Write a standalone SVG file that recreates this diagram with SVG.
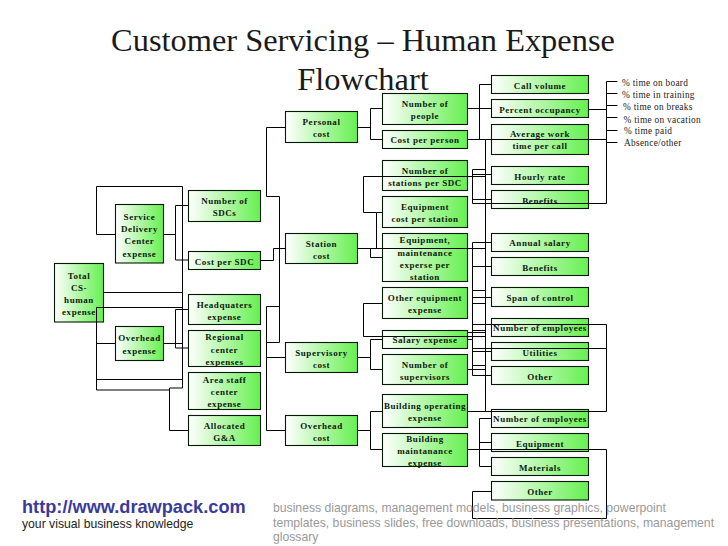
<svg xmlns="http://www.w3.org/2000/svg" width="728" height="546" viewBox="0 0 728 546">
<style>
text{font-family:"Liberation Serif","Times New Roman",serif}
.n rect{fill:url(#g);stroke:#021a02;stroke-width:1.1}
.n text{font-size:9px;font-weight:700;text-anchor:middle;letter-spacing:.55px;fill:#0c1a0c}
.c path{fill:none;stroke:#000;stroke-width:1}
.t{font-size:32.4px;text-anchor:middle;fill:#1a1a1a}
.o{font-size:9.3px;letter-spacing:.3px;fill:#222}
.f{font-family:"Liberation Sans",Arial,sans-serif}
.k{font-size:12.2px;fill:#999}
</style>
<defs><linearGradient id="g" x1="0" y1="0" x2="1" y2="0"><stop offset="0" stop-color="#fff"/><stop offset="1" stop-color="#66f050"/></linearGradient></defs>
<rect width="728" height="546" fill="#fff"/>
<text class="t" x="363" y="51">Customer Servicing – Human Expense</text>
<text class="t" x="363" y="90">Flowchart</text>
<g id="n-total" class="n"><rect x="54.5" y="263.5" width="49" height="58.5"/><text x="79" y="279">Total</text><text x="79" y="291">CS-</text><text x="79" y="303">human</text><text x="79" y="315">expense</text></g>
<g id="n-sdc" class="n"><rect x="115.5" y="204.5" width="48" height="58.5"/><text x="139.5" y="220">Service</text><text x="139.5" y="232">Delivery</text><text x="139.5" y="244">Center</text><text x="139.5" y="257">expense</text></g>
<g id="n-overhead-exp" class="n"><rect x="115.5" y="326.5" width="48" height="34"/><text x="139.5" y="341">Overhead</text><text x="139.5" y="354">expense</text></g>
<g id="n-num-sdc" class="n"><rect x="188.5" y="190.5" width="72" height="31"/><text x="224.5" y="204">Number of</text><text x="224.5" y="216">SDCs</text></g>
<g id="n-cost-sdc" class="n"><rect x="188.5" y="251.5" width="72" height="18"/><text x="224.5" y="265">Cost per SDC</text></g>
<g id="n-hq" class="n"><rect x="188.5" y="294.5" width="72" height="30"/><text x="224.5" y="308">Headquaters</text><text x="224.5" y="320">expense</text></g>
<g id="n-regional" class="n"><rect x="188.5" y="330.5" width="72" height="36"/><text x="224.5" y="340">Regional</text><text x="224.5" y="353">center</text><text x="224.5" y="365">expenses</text></g>
<g id="n-area" class="n"><rect x="188.5" y="372.5" width="72" height="37"/><text x="224.5" y="383">Area staff</text><text x="224.5" y="395">center</text><text x="224.5" y="407">expense</text></g>
<g id="n-alloc" class="n"><rect x="188.5" y="415.5" width="72" height="30"/><text x="224.5" y="429">Allocated</text><text x="224.5" y="441">G&amp;A</text></g>
<g id="n-personal" class="n"><rect x="285.5" y="111.5" width="72" height="31"/><text x="321.5" y="125">Personal</text><text x="321.5" y="137">cost</text></g>
<g id="n-station" class="n"><rect x="285.5" y="233.5" width="72" height="30"/><text x="321.5" y="247">Station</text><text x="321.5" y="259">cost</text></g>
<g id="n-supervisory" class="n"><rect x="285.5" y="342.5" width="72" height="30"/><text x="321.5" y="356">Supervisory</text><text x="321.5" y="368">cost</text></g>
<g id="n-overhead-cost" class="n"><rect x="285.5" y="415.5" width="72" height="30"/><text x="321.5" y="429">Overhead</text><text x="321.5" y="441">cost</text></g>
<g id="n-people" class="n"><rect x="382.5" y="93.5" width="85" height="31"/><text x="425" y="107">Number of</text><text x="425" y="119">people</text></g>
<g id="n-cost-person" class="n"><rect x="382.5" y="130.5" width="85" height="18"/><text x="425" y="143">Cost per person</text></g>
<g id="n-stations" class="n"><rect x="382.5" y="160.5" width="85" height="30"/><text x="425" y="174">Number of</text><text x="425" y="186">stations per SDC</text></g>
<g id="n-equip-cost" class="n"><rect x="382.5" y="196.5" width="85" height="31"/><text x="425" y="210">Equipment</text><text x="425" y="222">cost per station</text></g>
<g id="n-equip-maint" class="n"><rect x="382.5" y="233.5" width="85" height="48"/><text x="425" y="243">Equipment,</text><text x="425" y="256">maintenance</text><text x="425" y="268">experse per</text><text x="425" y="280">station</text></g>
<g id="n-other-equip" class="n"><rect x="382.5" y="287.5" width="85" height="31"/><text x="425" y="301">Other equipment</text><text x="425" y="313">expense</text></g>
<g id="n-salary" class="n"><rect x="382.5" y="330.5" width="85" height="18"/><text x="425" y="343">Salary expense</text></g>
<g id="n-supervisors" class="n"><rect x="382.5" y="354.5" width="85" height="30"/><text x="425" y="368">Number of</text><text x="425" y="380">supervisors</text></g>
<g id="n-bld-op" class="n"><rect x="382.5" y="394.5" width="85" height="33"/><text x="425" y="409">Building operating</text><text x="425" y="421">expense</text></g>
<g id="n-bld-maint" class="n"><rect x="382.5" y="433.5" width="85" height="33"/><text x="425" y="442">Building</text><text x="425" y="454">maintanance</text><text x="425" y="466">expense</text></g>
<g id="n-call" class="n"><rect x="491.5" y="75.5" width="97" height="18"/><text x="540" y="89">Call volume</text></g>
<g id="n-occupancy" class="n"><rect x="491.5" y="99.5" width="97" height="18"/><text x="540" y="113">Percent occupancy</text></g>
<g id="n-awt" class="n"><rect x="491.5" y="124.5" width="97" height="30"/><text x="540" y="137">Average work</text><text x="540" y="149">time per call</text></g>
<g id="n-hourly" class="n"><rect x="491.5" y="166.5" width="97" height="18"/><text x="540" y="180">Hourly rate</text></g>
<g id="n-benefits1" class="n"><rect x="491.5" y="190.5" width="97" height="18"/><text x="540" y="204">Benefits</text></g>
<g id="n-annual" class="n"><rect x="491.5" y="233.5" width="97" height="18"/><text x="540" y="246">Annual salary</text></g>
<g id="n-benefits2" class="n"><rect x="491.5" y="257.5" width="97" height="18"/><text x="540" y="271">Benefits</text></g>
<g id="n-span" class="n"><rect x="491.5" y="287.5" width="97" height="19"/><text x="540" y="301">Span of control</text></g>
<g id="n-emp1" class="n"><rect x="491.5" y="318.5" width="97" height="18"/><text x="540" y="331">Number of employees</text></g>
<g id="n-utilities" class="n"><rect x="491.5" y="342.5" width="97" height="18"/><text x="540" y="356">Utilities</text></g>
<g id="n-other1" class="n"><rect x="491.5" y="366.5" width="97" height="18"/><text x="540" y="380">Other</text></g>
<g id="n-emp2" class="n"><rect x="491.5" y="409.5" width="97" height="18"/><text x="540" y="422">Number of employees</text></g>
<g id="n-equipment" class="n"><rect x="491.5" y="433.5" width="97" height="18"/><text x="540" y="447">Equipment</text></g>
<g id="n-materials" class="n"><rect x="491.5" y="457.5" width="97" height="18"/><text x="540" y="471">Materials</text></g>
<g id="n-other2" class="n"><rect x="491.5" y="481.5" width="97" height="18.5"/><text x="540" y="495">Other</text></g>
<g id="connectors" class="c">
<path d="M115.5 234.5H96.5V186.5H182.5V388H169.5V430.5H188.5M163.5 234.5H175.5M188.5 205.5H175.5V260H188.5"/>
<path d="M103.5 292.5H182.5M96.5 307.5H182.5M96.5 307.5V390H169.5M96.5 379.5H182.5M96.5 343.5H115.5M163.5 343.5H182.5M188.5 309.5H175.5V348H188.5"/>
<path d="M260.5 260.5H273.5V248.5H285.5"/>
<path d="M285.5 127.5H266.5V196.5H279.5V342.5H266.5M279.5 306.5H266.5V430.5H285.5M266.5 357.5H285.5"/>
<path d="M357.5 127.5H370.5M382.5 108.5H370.5V139.5H382.5"/>
<path d="M357.5 248.5H485.5M370.5 248.5V257.5H382.5M376.5 248.5V212.5H363.5V176.5H485.5M376.5 212.5H382.5"/>
<path d="M382.5 303.5H363.5V336.5H485.5"/>
<path d="M357.5 357.5H370.5M382.5 339.5H370.5V369.5H382.5"/>
<path d="M357.5 430.5H370.5M382.5 411.5H370.5V449.5H382.5"/>
<path d="M467.5 108.5H491.5M491.5 84.5H479.5V139.5M467.5 139.5H606.5M485.5 139.5V411.5M467.5 411.5H606.5V324.5H472.5"/>
<path d="M472.5 169.5H485.5M472.5 169.5V203.5H606.5M472.5 174.5H491.5M472.5 199.5H491.5"/>
<path d="M588.5 109.5H606.5M606.5 81.5V203.5M606.5 81.5H617.5M606.5 93.5H617.5M606.5 105.5H617.5M606.5 117.5H617.5M606.5 130.5H617.5M606.5 142.5H617.5"/>
<path d="M472.5 242.5V375.5M472.5 242.5H491.5M472.5 266.5H491.5M472.5 290.5H485.5M472.5 297.5H491.5M472.5 303.5H485.5M472.5 330.5H485.5M467.5 332.5H485.5M467.5 339.5H472.5M472.5 348.5H606.5M472.5 351.5H491.5M472.5 365.5H485.5M467.5 369.5H485.5M472.5 375.5H491.5"/>
<path d="M491.5 418.5H479.5V466.5H491.5M479.5 442.5H491.5M467.5 449.5H606.5V518.5H472.5V491.5H491.5"/>
</g>
<text class="o" x="622" y="86">% time on board</text>
<text class="o" x="622" y="98">% time in training</text>
<text class="o" x="623" y="110">% time on breaks</text>
<text class="o" x="623.5" y="122.5">% time on vacation</text>
<text class="o" x="624" y="134">% time paid</text>
<text class="o" x="624" y="146">Absence/other</text>
<text class="f" x="22" y="513" font-size="18.2" font-weight="700" fill="#3a3a9c">http://www.drawpack.com</text>
<text class="f" x="22" y="528" font-size="12.2" fill="#222">your visual business knowledge</text>
<text class="f k" x="273" y="512">business diagrams, management models, business graphics, powerpoint</text>
<text class="f k" x="273" y="527">templates, business slides, free downloads, business presentations, management</text>
<text class="f k" x="273" y="541">glossary</text>
</svg>
